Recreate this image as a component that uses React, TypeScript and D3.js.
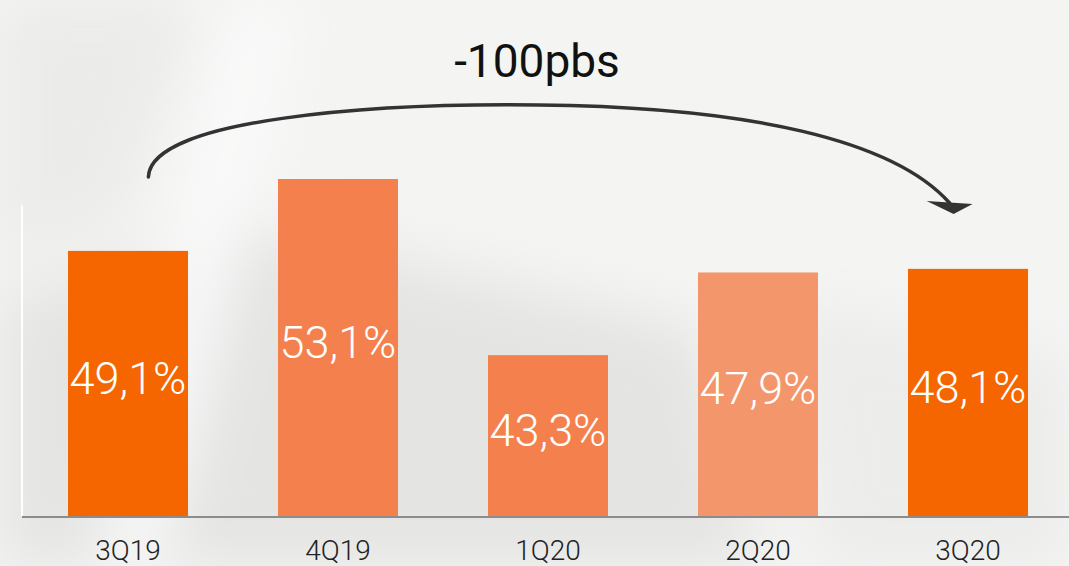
import React, { useRef, useEffect } from "react";
import * as d3 from "d3";

// quarters and margin values (%)
const categories = ["3Q19", "4Q19", "1Q20", "2Q20", "3Q20"];
const values = [49.1, 53.1, 43.3, 47.9, 48.1];
const barColors = ["#f56600", "#f4814d", "#f4814d", "#f4966b", "#f56600"];
const valueLabels = ["49,1%", "53,1%", "43,3%", "47,9%", "48,1%"];
const deltaLabel = "-100pbs";

const width = 1069;
const height = 566;
const baseline = 516;

const App: React.FC = () => {
  const svgRef = useRef<SVGSVGElement | null>(null);

  useEffect(() => {
    const svg = d3.select(svgRef.current);
    svg.selectAll("*").remove();
    svg.attr("width", width).attr("height", height);

    const defs = svg.append("defs");
    const blur = defs.append("filter").attr("id", "soft").attr("x", "-50%").attr("y", "-50%").attr("width", "200%").attr("height", "200%");
    blur.append("feGaussianBlur").attr("stdDeviation", 30);

    // washed-out photo background
    svg.append("rect").attr("width", width).attr("height", height).attr("fill", "#f4f4f3");
    const bg = svg.append("g").attr("filter", "url(#soft)");
    bg.append("path")
      .attr("d", "M0,300 L260,230 L700,330 L760,566 L0,566 Z")
      .attr("fill", "#e4e4e3");
    bg.append("path")
      .attr("d", "M0,0 L200,0 L120,220 L0,260 Z")
      .attr("fill", "#ebebea");
    bg.append("path")
      .attr("d", "M230,0 L300,0 L160,560 L100,560 Z")
      .attr("fill", "#fafafa");
    bg.append("path")
      .attr("d", "M780,300 L1069,360 L1069,566 L820,566 Z")
      .attr("fill", "#ececeb");

    const x = d3
      .scaleBand<string>()
      .domain(categories)
      .range([26, 1070])
      .paddingInner(0.4286)
      .paddingOuter(0.2);

    const y = d3.scaleLinear().domain([34.35, 53.1]).range([baseline, 179]);

    // left white edge
    svg.append("line")
      .attr("x1", 22).attr("x2", 22)
      .attr("y1", 205).attr("y2", baseline)
      .attr("stroke", "#ffffff").attr("stroke-width", 2);

    const bars = svg.append("g");
    bars.selectAll("rect")
      .data(values)
      .enter()
      .append("rect")
      .attr("x", (_, i) => x(categories[i])!)
      .attr("y", (d) => y(d))
      .attr("width", x.bandwidth())
      .attr("height", (d) => baseline - y(d))
      .attr("fill", (_, i) => barColors[i]);

    bars.selectAll("text")
      .data(values)
      .enter()
      .append("text")
      .attr("x", (_, i) => x(categories[i])! + x.bandwidth() / 2)
      .attr("y", (d) => (y(d) + baseline) / 2 - 6)
      .attr("dy", "0.36em")
      .attr("text-anchor", "middle")
      .attr("fill", "#ffffff")
      .style("font-family", "Roboto, sans-serif")
      .style("font-weight", 300)
      .style("font-size", "45px")
      .text((_, i) => valueLabels[i]);

    // x axis
    svg.append("line")
      .attr("x1", 22).attr("x2", width)
      .attr("y1", baseline + 1).attr("y2", baseline + 1)
      .attr("stroke", "#8c8c8c").attr("stroke-width", 2);

    svg.append("g")
      .selectAll("text")
      .data(categories)
      .enter()
      .append("text")
      .attr("x", (d) => x(d)! + x.bandwidth() / 2)
      .attr("y", 560)
      .attr("text-anchor", "middle")
      .attr("fill", "#222222")
      .style("font-family", "Roboto, sans-serif")
      .style("font-weight", 300)
      .style("font-size", "28px")
      .text((d) => d);

    // change arrow
    const x0 = x(categories[0])! + x.bandwidth() * 0.67;
    const x1 = x(categories[categories.length - 1])! + x.bandwidth() * 0.38;
    svg.append("path")
      .attr("d", `M${x0},177 C${x0 + 2},118 ${x0 + 230},103 ${x0 + 390},105 C${x0 + 600},107 ${x1 - 60},140 ${x1 - 4},203`)
      .attr("fill", "none")
      .attr("stroke", "#333333")
      .attr("stroke-width", 3.5)
      .attr("stroke-linecap", "round");
    svg.append("path")
      .attr("d", `M${x1 - 27},201 L${x1 + 19},204 L${x1},214 Z`)
      .attr("fill", "#333333");

    svg.append("text")
      .attr("x", 537)
      .attr("y", 77)
      .attr("text-anchor", "middle")
      .attr("fill", "#111111")
      .style("font-family", "Roboto, sans-serif")
      .style("font-size", "46px")
      .text(deltaLabel);
  }, []);

  return (
    <div style={{ position: "absolute", left: 0, top: 0, width, height }}>
      <svg ref={svgRef}></svg>
    </div>
  );
};

export default App;
